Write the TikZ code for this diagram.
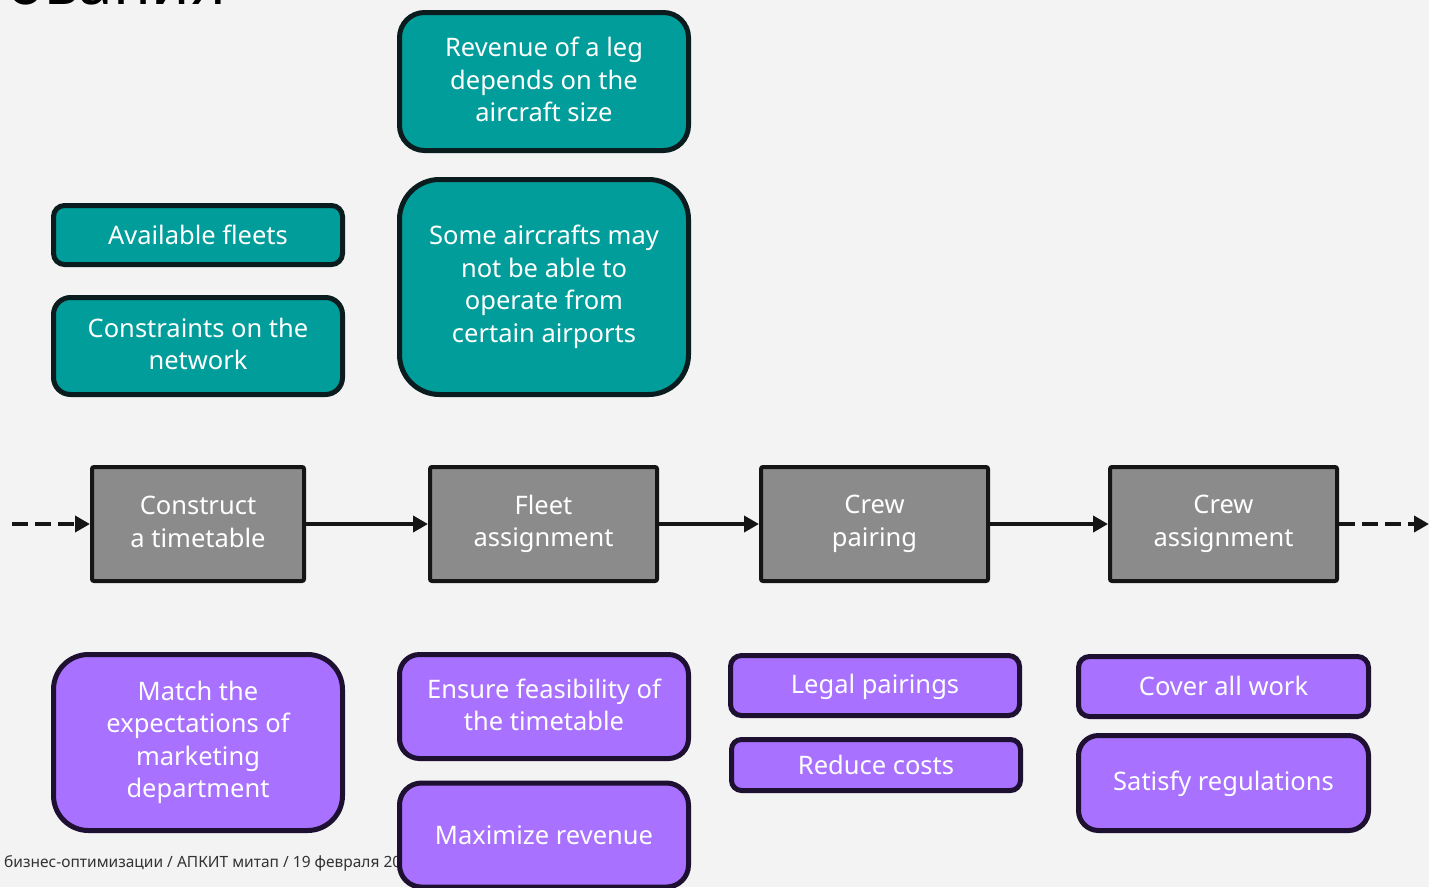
\documentclass[tikz,border=0pt]{standalone}
\usepackage{fontspec}
\setmainfont{Noto Sans}
\usetikzlibrary{arrows.meta}
\newcommand\mytopstrut{\rule{0pt}{22pt}}
\newcommand\mybotstrut{\rule[-4pt]{0pt}{4pt}}
\definecolor{bgc}{HTML}{F3F3F3}
\definecolor{tealf}{HTML}{009D9A}
\definecolor{tealb}{HTML}{0A1C1D}
\definecolor{purf}{HTML}{A871FF}
\definecolor{purb}{HTML}{1E1030}
\definecolor{grayf}{HTML}{8B8B8B}
\definecolor{grayb}{HTML}{151515}
\tikzset{
  box/.style={draw, line width=5pt, inner sep=0pt, align=center, text=white,
    font=\fontsize{25.5}{32.5}\selectfont,
    execute at begin node=\mytopstrut, execute at end node=\mybotstrut},
  tealbox/.style={box, fill=tealf, draw=tealb},
  purbox/.style={box, fill=purf, draw=purb},
  graybox/.style={box, fill=grayf, draw=grayb, line width=4pt, rounded corners=2pt},
  flow/.style={line width=4.5pt, draw=grayb, -{Triangle[length=15pt,width=16pt]}},
  flowdash/.style={flow, dash pattern=on 16pt off 7pt},
}
\begin{document}
\begin{tikzpicture}[x=1pt,y=-1pt]
\fill[bgc] (0,0) rectangle (1429,887);
\useasboundingbox (0,0) rectangle (1429,887);
\begin{scope}
\clip (0,0) rectangle (1429,887);
\node[anchor=base east, inner sep=0pt, font=\fontsize{62}{62}\selectfont, text=black] (title) at (226,4) {ования};
\node[anchor=base west, inner sep=0pt, font=\fontsize{15.5}{17}\selectfont, text=black!80] (foot) at (4,867) {бизнес-оптимизации / АПКИТ митап / 19 февраля 2024};

% teal
\node[tealbox, rounded corners=25pt, minimum width=289pt, minimum height=138pt] (rev) at (544,81.5) {Revenue of a leg\\depends on the\\aircraft size};
\node[tealbox, rounded corners=40pt, minimum width=289pt, minimum height=215pt] (some) at (544,287) {Some aircrafts may\\not be able to\\operate from\\certain airports};
\node[tealbox, rounded corners=11pt, minimum width=289pt, minimum height=59pt] (avail) at (198,235) {Available fleets};
\node[tealbox, rounded corners=17pt, minimum width=289pt, minimum height=97pt] (constr) at (198,346) {Constraints on the\\network};

% gray
\node[graybox, minimum width=212pt, minimum height=114pt] (g1) at (198,524) {Construct\\a timetable};
\node[graybox, minimum width=227pt, minimum height=114pt] (g2) at (543.5,524) {Fleet\\assignment};
\node[graybox, minimum width=227pt, minimum height=114pt] (g3) at (874.5,524) {Crew\\pairing};
\node[graybox, minimum width=227pt, minimum height=114pt] (g4) at (1223.5,524) {Crew\\assignment};

% purple
\node[purbox, rounded corners=35pt, minimum width=289pt, minimum height=176pt] (match) at (198,742.5) {Match the\\expectations of\\marketing\\department};
\node[purbox, rounded corners=20pt, minimum width=289pt, minimum height=104pt] (ensure) at (544,706.5) {Ensure feasibility of\\the timetable};
\node[purbox, rounded corners=22pt, minimum width=289pt, minimum height=104pt] (maxim) at (544,835) {Maximize revenue};
\node[purbox, rounded corners=11pt, minimum width=289pt, minimum height=60pt] (legal) at (875,685.5) {Legal pairings};
\node[purbox, rounded corners=10pt, minimum width=289pt, minimum height=51pt] (reduce) at (876,765) {Reduce costs};
\node[purbox, rounded corners=11pt, minimum width=290pt, minimum height=60pt] (cover) at (1223.5,686.5) {Cover all work};
\node[purbox, rounded corners=20pt, minimum width=290pt, minimum height=95pt] (satisfy) at (1223.5,783) {Satisfy regulations};

% connectors
\coordinate (lin) at (12,524);
\coordinate (rout) at (1429,524);
\draw[flowdash] (lin) -- (g1.west);
\draw[flow] (g1.east) -- (g2.west);
\draw[flow] (g2.east) -- (g3.west);
\draw[flow] (g3.east) -- (g4.west);
\draw[flowdash] (g4.east) -- (rout);
\end{scope}
\end{tikzpicture}
\end{document}
